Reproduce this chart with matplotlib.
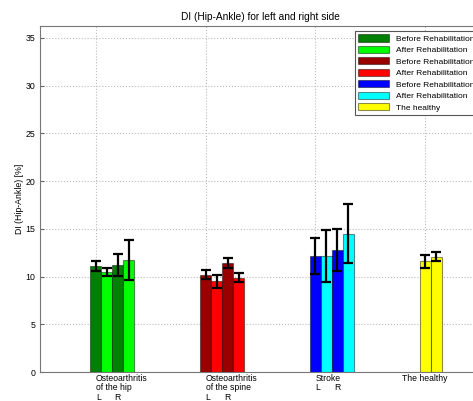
import numpy as np
import matplotlib
matplotlib.use('Agg')
import matplotlib.pyplot as plt
from matplotlib.transforms import blended_transform_factory

plt.rcParams['font.family'] = ['Liberation Sans', 'DejaVu Sans']

# values: [L before, L after, R before, R after]
hip_mean = [11.1, 10.5, 11.2, 11.7]
hip_err = [0.5, 0.4, 1.15, 2.1]
spine_mean = [10.2, 9.5, 11.4, 9.9]
spine_err = [0.5, 0.65, 0.55, 0.45]
stroke_mean = [12.15, 12.15, 12.8, 14.5]
stroke_err = [1.9, 2.75, 2.2, 3.05]
healthy_mean = [11.6, 12.1]
healthy_err = [0.7, 0.5]

group_colors = [['#008000', '#00ff00'], ['#990000', '#ff0000'],
                ['#0000ff', '#00ffff']]
healthy_color = '#ffff00'
legend_labels = ['Before Rehabilitation', 'After Rehabilitation'] * 3 + ['The healthy']

fig = plt.figure(figsize=(4.73, 4.01), dpi=100)
ax = fig.add_axes([40 / 473, 29 / 401, 441 / 473, 346 / 401])

w = 0.1
edge = (0, 0, 0, 0.45)
handles = []
for g, (mean, err) in enumerate([(hip_mean, hip_err), (spine_mean, spine_err),
                                 (stroke_mean, stroke_err)]):
    x = g + 1 + np.arange(4) * w
    cols = [group_colors[g][0], group_colors[g][1]] * 2
    bars = ax.bar(x, mean, w, color=cols, edgecolor=edge, linewidth=0.8, zorder=2)
    ax.errorbar(x, mean, yerr=err, fmt='none', ecolor='k', elinewidth=1.6,
                capsize=3.3, capthick=1.6, zorder=3)
    handles += [bars[0], bars[1]]

x = 4 + np.arange(2) * w
bars = ax.bar(x, healthy_mean, w, color=healthy_color, edgecolor=edge,
              linewidth=0.8, zorder=2)
ax.errorbar(x, healthy_mean, yerr=healthy_err, fmt='none', ecolor='k',
            elinewidth=1.6, capsize=3.3, capthick=1.6, zorder=3)
handles.append(bars[0])

ax.set_xlim(0.49, 4.51)
ax.set_ylim(0, 36.25)
ax.set_xticks([1, 2, 3, 4])
ax.set_xticklabels([])
ax.set_yticks(np.arange(0, 36, 5))
ax.grid(True, linestyle=':', color='#bbbbbb', linewidth=0.8, zorder=0)
ax.set_axisbelow(True)
ax.tick_params(direction='in', length=3, labelsize=6.3, color='#666666')
for s in ax.spines.values():
    s.set_color('#777777')

ax.set_title('DI (Hip-Ankle) for left and right side', fontsize=7.3, pad=4)
ax.set_ylabel('DI (Hip-Ankle) [%]', fontsize=6.3, labelpad=1)

# group labels under the axis
tr = blended_transform_factory(ax.transData, fig.transFigure)
fs = 6.2
rows = [1 - 378.5 / 401, 1 - 388 / 401, 1 - 398 / 401]
ax.text(1, rows[0], 'Osteoarthritis', transform=tr, fontsize=fs, va='center')
ax.text(1, rows[1], 'of the hip', transform=tr, fontsize=fs, va='center')
ax.text(1, rows[2], 'L', transform=tr, fontsize=fs, va='center')
ax.text(1.165, rows[2], 'R', transform=tr, fontsize=fs, va='center')
ax.text(2, rows[0], 'Osteoarthritis', transform=tr, fontsize=fs, va='center')
ax.text(2, rows[1], 'of the spine', transform=tr, fontsize=fs, va='center')
ax.text(2, rows[2], 'L', transform=tr, fontsize=fs, va='center')
ax.text(2.165, rows[2], 'R', transform=tr, fontsize=fs, va='center')
ax.text(3, rows[0], 'Stroke', transform=tr, fontsize=fs, va='center')
ax.text(3, rows[1], 'L', transform=tr, fontsize=fs, va='center')
ax.text(3.17, rows[1], 'R', transform=tr, fontsize=fs, va='center')
ax.text(4, rows[0], 'The healthy', transform=tr, fontsize=fs, va='center',
        ha='center')

leg = ax.legend(handles, legend_labels, loc='upper left',
                bbox_to_anchor=(355 / 473, 1 - 31 / 401),
                bbox_transform=fig.transFigure, fontsize=6.0, fancybox=False,
                framealpha=1, edgecolor='#555555', handlelength=3.7,
                handleheight=0.95, handletextpad=0.8, labelspacing=0.36,
                borderpad=0.4, borderaxespad=0)
leg.get_frame().set_linewidth(0.8)

fig.savefig('out.png', dpi=100)
